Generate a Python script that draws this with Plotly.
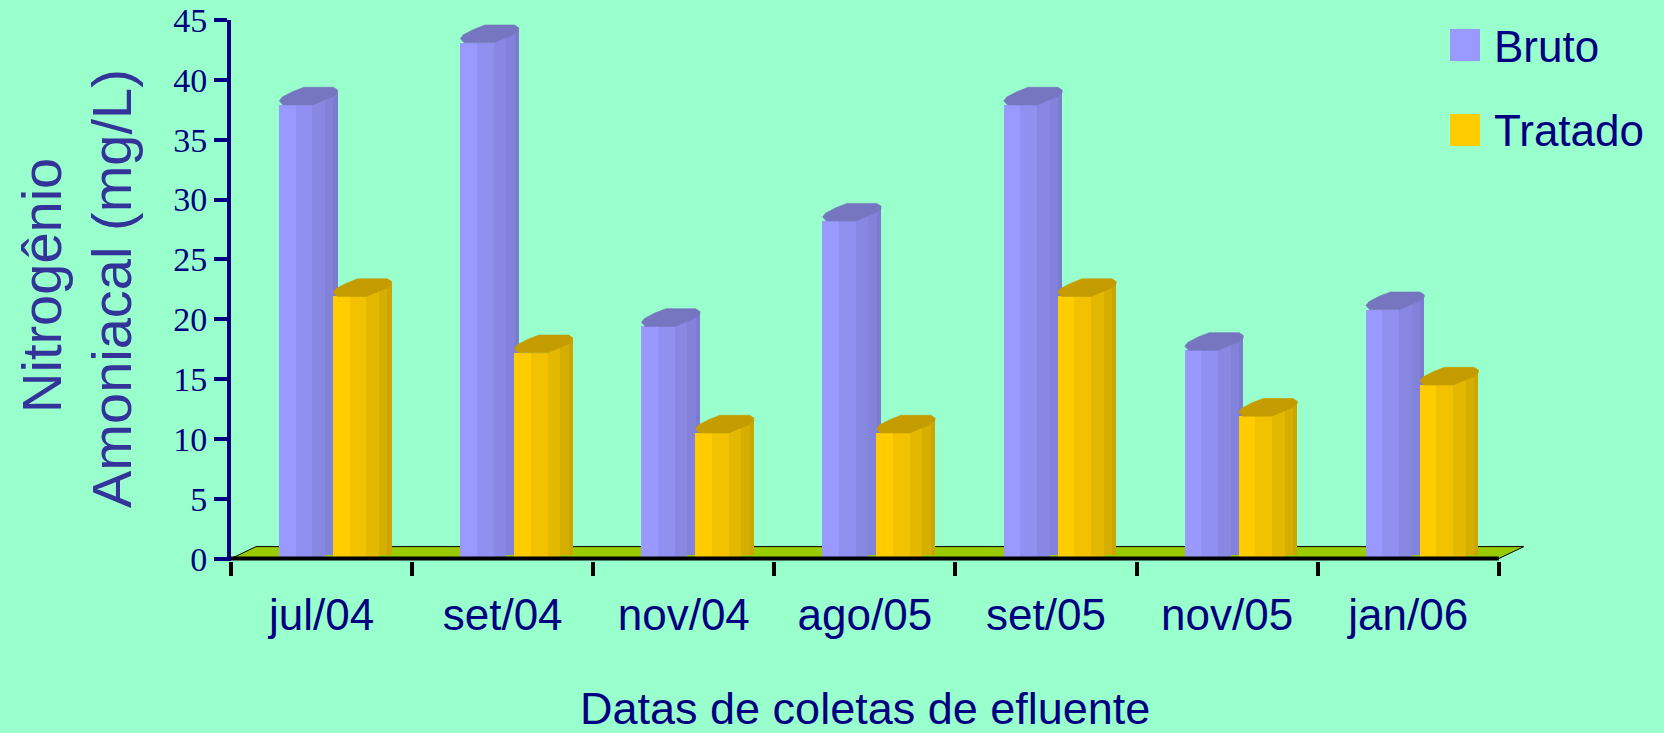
import plotly.graph_objects as go

# ---------------- data ----------------
categories = ['jul/04', 'set/04', 'nov/04', 'ago/05', 'set/05', 'nov/05', 'jan/06']
bruto = [37.9, 43.1, 19.4, 28.2, 37.9, 17.4, 20.8]
tratado = [21.9, 17.2, 10.5, 10.5, 21.9, 11.9, 14.5]
y_ticks = [0, 5, 10, 15, 20, 25, 30, 35, 40, 45]

# ---------------- geometry (pixel-based 3D look) ----------------
W, H = 1664, 733
ML, MT, MB = 231, 20, 172
XR = (-0.5, 6.7)
YR = (-0.2, 45)
PW = 1304
PH = H - MT - MB
PX_X = PW / (XR[1] - XR[0])
PX_Y = PH / (YR[1] - YR[0])
MR = W - ML - PW

xs = list(range(len(categories)))

BG = '#99FFCC'
NAVY = '#000080'
TITLE = '#333399'

series = [
    dict(name='Bruto', vals=bruto, x0=-42.5,
         stripes=['#9999FF', '#9090F0', '#8888E2', '#8282DA', '#7B7BCF'],
         cap='#7676C0'),
    dict(name='Tratado', vals=tratado, x0=11.5,
         stripes=['#FFCC00', '#F2C200', '#E3B800', '#D6AE00', '#CCA500'],
         cap='#C49C00'),
]
# (left px, right px, top extension px above value, base px)
stripe_px = [(0, 16.7, 0, 0), (16.7, 33.4, 0, 0), (33.4, 46, 6, 0),
             (46, 54.4, 12, 3.5), (54.4, 58.6, 12, 3.5)]
cap_px = [(0, -4.3), (4, 0), (33.4, 0), (53.4, -8.3), (58.6, -12.3), (58.6, -15),
          (54.4, -17.7), (24.7, -17.7), (13.4, -13.3), (2.7, -7.7)]

fig = go.Figure()

for s in series:
    for k, (a, b, ext, b0) in enumerate(stripe_px):
        base = [b0 / PX_Y] * len(xs)
        hgt = [v + (ext - b0) / PX_Y for v in s['vals']]
        fig.add_trace(go.Bar(
            x=xs, y=hgt, base=base,
            offset=(s['x0'] + a) / PX_X, width=(b - a) / PX_X,
            marker=dict(color=s['stripes'][k], line=dict(width=0)),
            showlegend=False, hoverinfo='skip'))
for s in series:
    cx, cy = [], []
    for i, v in zip(xs, s['vals']):
        for dx, dy in cap_px:
            cx.append(i + (s['x0'] + dx) / PX_X)
            cy.append(v - dy / PX_Y)
        cx.append(None)
        cy.append(None)
    fig.add_trace(go.Scatter(x=cx, y=cy, mode='lines', fill='toself',
                             fillcolor=s['cap'], line=dict(width=0.6, color=s['cap']),
                             showlegend=False, hoverinfo='skip'))

# x axis front line
fig.add_trace(go.Scatter(x=[-0.5, len(xs) - 0.5], y=[0, 0], mode='lines',
                         line=dict(color='black', width=4),
                         showlegend=False, hoverinfo='skip'))

# floor
dxf = 25 / PX_X
dyf = 12 / PX_Y
x_lo, x_hi = -0.5, len(xs) - 0.5
fig.add_shape(type='path', xref='x', yref='y', layer='below',
              path=f'M {x_lo},0 L {x_hi},0 L {x_hi + dxf},{dyf} L {x_lo + dxf},{dyf} Z',
              fillcolor='#99CC00', line=dict(color='black', width=1))

boundaries = [i - 0.5 for i in range(len(xs) + 1)]

fig.update_layout(
    width=W, height=H,
    margin=dict(l=ML, r=MR, t=MT, b=MB, pad=0, autoexpand=False),
    paper_bgcolor=BG, plot_bgcolor=BG,
    barmode='overlay', bargap=0,
    showlegend=False,
    xaxis=dict(type='linear', range=list(XR), showgrid=False, zeroline=False,
               automargin=False,
               showline=False, tickmode='array', tickvals=xs, ticktext=categories,
               ticks='', tickfont=dict(family='Liberation Sans, Arial', size=44, color=NAVY),
               ticklabelstandoff=24,
               minor=dict(tickmode='array', tickvals=boundaries, ticks='outside',
                          ticklen=14, tickwidth=4, tickcolor='black', showgrid=False)),
    yaxis=dict(range=list(YR), showgrid=False, zeroline=False, showline=True,
               automargin=False,
               linecolor=NAVY, linewidth=4, tickmode='array', tickvals=y_ticks,
               ticks='outside', ticklen=13, tickwidth=4, tickcolor=NAVY,
               tickfont=dict(family='Liberation Serif, Times New Roman', size=34, color=NAVY)),
)


def px2paper(px, py):
    return (px - ML) / PW, (H - MB - py) / PH


# y-axis title (two lines)
for text, cxp, cyp in [('Nitrogênio', 41, 286), ('Amoniacal (mg/L)', 111, 289)]:
    ax_, ay_ = px2paper(cxp, cyp)
    fig.add_annotation(text=text, xref='paper', yref='paper', x=ax_, y=ay_,
                       xanchor='center', yanchor='middle', textangle=-90, showarrow=False,
                       font=dict(family='Liberation Sans, Arial', size=56, color=TITLE))

# x-axis title
ax_, ay_ = px2paper(865, 708)
fig.add_annotation(text='Datas de coletas de efluente', xref='paper', yref='paper',
                   x=ax_, y=ay_, xanchor='center', yanchor='middle', showarrow=False,
                   font=dict(family='Liberation Sans, Arial', size=45, color=NAVY))

# legend (manual)
for s, sq_top, txt_cy in [(series[0], 29, 46), (series[1], 114, 130)]:
    x0p, y0p = px2paper(1450, sq_top + 32)
    x1p, y1p = px2paper(1480, sq_top)
    fig.add_shape(type='rect', xref='paper', yref='paper', x0=x0p, x1=x1p, y0=y0p, y1=y1p,
                  fillcolor=s['stripes'][0], line=dict(width=0))
    tx, ty = px2paper(1492, txt_cy)
    fig.add_annotation(text=s['name'], xref='paper', yref='paper', x=tx, y=ty,
                       xanchor='left', yanchor='middle', showarrow=False,
                       font=dict(family='Liberation Sans, Arial', size=44, color=NAVY))

fig.write_html('out.html')
